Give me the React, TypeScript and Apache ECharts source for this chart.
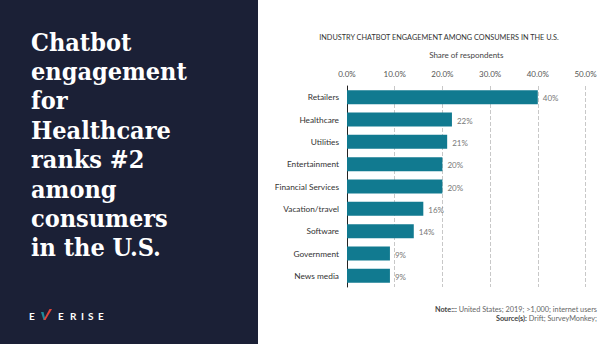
import React, { useEffect, useRef } from "react";
import * as echarts from "echarts";

const categories = [
  "Retailers",
  "Healthcare",
  "Utilities",
  "Entertainment",
  "Financial Services",
  "Vacation/travel",
  "Software",
  "Government",
  "News media",
];
const values = [40, 22, 21, 20, 20, 16, 14, 9, 9];
const headlineLines = [
  "Chatbot",
  "engagement",
  "for",
  "Healthcare",
  "ranks #2",
  "among",
  "consumers",
  "in the U.S.",
];
const chartTitle = "INDUSTRY CHATBOT ENGAGEMENT AMONG CONSUMERS IN THE U.S.";
const axisName = "Share of respondents";
const noteLabel = "Note:::";
const noteText = " United States; 2019; >1,000; internet users";
const sourceLabel = "Source(s):";
const sourceText = " Drift; SurveyMonkey;";
const logoLetters = ["E", "", "E", "R", "I", "S", "E"];

const SANS = "Lato, 'Open Sans', sans-serif";

export default function App() {
  const ref = useRef<HTMLDivElement>(null);
  useEffect(() => {
    if (!ref.current) return;
    const chart = echarts.init(ref.current, undefined, { renderer: "svg" });
    const graphics: any[] = [
      { type: "rect", shape: { x: 0, y: 0, width: 258, height: 344 }, style: { fill: "#1b2036" }, z: 0 },
    ];
    headlineLines.forEach((t, i) => {
      graphics.push({
        type: "text",
        x: 31,
        y: 42 + i * 29.4,
        style: {
          text: t,
          fill: "#ffffff",
          font: "bold 25px 'DejaVu Serif Condensed', 'DejaVu Serif', serif",
          verticalAlign: "middle",
        },
      });
    });
    const logoX = [29, 44, 58, 70, 81, 88, 98];
    logoLetters.forEach((l, i) => {
      if (!l) return;
      graphics.push({
        type: "text",
        x: logoX[i],
        y: 316,
        style: { text: l, fill: "#ffffff", font: "bold 10px " + SANS, verticalAlign: "middle" },
      });
    });
    graphics.push({
      type: "polygon",
      shape: { points: [[41, 312], [43.5, 312], [45.5, 320], [43.5, 320]] },
      style: { fill: "#1d8a9a" },
    });
    graphics.push({
      type: "polygon",
      shape: { points: [[49.5, 309], [52, 309], [45.5, 320], [43.5, 320]] },
      style: { fill: "#e0463a" },
    });
    graphics.push({
      type: "text",
      x: 439,
      y: 37,
      style: { text: chartTitle, fill: "#333", font: "7.3px " + SANS, align: "center", verticalAlign: "middle" },
    });
    const rich = {
      b: { font: "bold 7.3px " + SANS, fill: "#444" },
      n: { font: "7.3px " + SANS, fill: "#666" },
    };
    graphics.push({
      type: "text",
      x: 597,
      y: 309,
      style: {
        text: "{b|" + noteLabel + "}{n|" + noteText + "}",
        align: "right",
        verticalAlign: "middle",
        rich,
      },
    });
    graphics.push({
      type: "text",
      x: 597,
      y: 318,
      style: {
        text: "{b|" + sourceLabel + "}{n|" + sourceText + "}",
        align: "right",
        verticalAlign: "middle",
        rich,
      },
    });

    chart.setOption({
      animation: false,
      backgroundColor: "#ffffff",
      grid: { left: 347, right: 25.5, top: 86, bottom: 57, containLabel: false },
      xAxis: {
        type: "value",
        position: "top",
        min: 0,
        max: 50,
        interval: 10,
        name: axisName,
        nameLocation: "middle",
        nameGap: 27,
        nameTextStyle: { color: "#444", fontSize: 8, fontFamily: SANS },
        axisLine: { show: false },
        axisTick: { show: false },
        axisLabel: {
          color: "#555",
          fontSize: 8,
          fontFamily: SANS,
          margin: 8,
          formatter: (v: number) => v.toFixed(1) + "%",
        },
        splitLine: { show: true, lineStyle: { type: "dashed", color: "#c8c8c8", width: 1 } },
      },
      yAxis: {
        type: "category",
        data: categories,
        inverse: true,
        axisLine: { show: true, lineStyle: { color: "#222", width: 1 } },
        axisTick: { show: false },
        axisLabel: { color: "#333", fontSize: 8.3, fontFamily: SANS, margin: 8 },
      },
      series: [
        {
          type: "bar",
          data: values,
          barWidth: 14,
          itemStyle: { color: "#117a90" },
          label: {
            show: true,
            position: "right",
            distance: 5,
            formatter: "{c}%",
            color: "#777",
            fontSize: 8,
            fontFamily: SANS,
            offset: [0, 1],
          },
        },
      ],
      graphic: graphics,
    });
    return () => chart.dispose();
  }, []);
  return (
    <div
      ref={ref}
      style={{ position: "fixed", left: 0, top: 0, width: 611, height: 344 }}
    />
  );
}
